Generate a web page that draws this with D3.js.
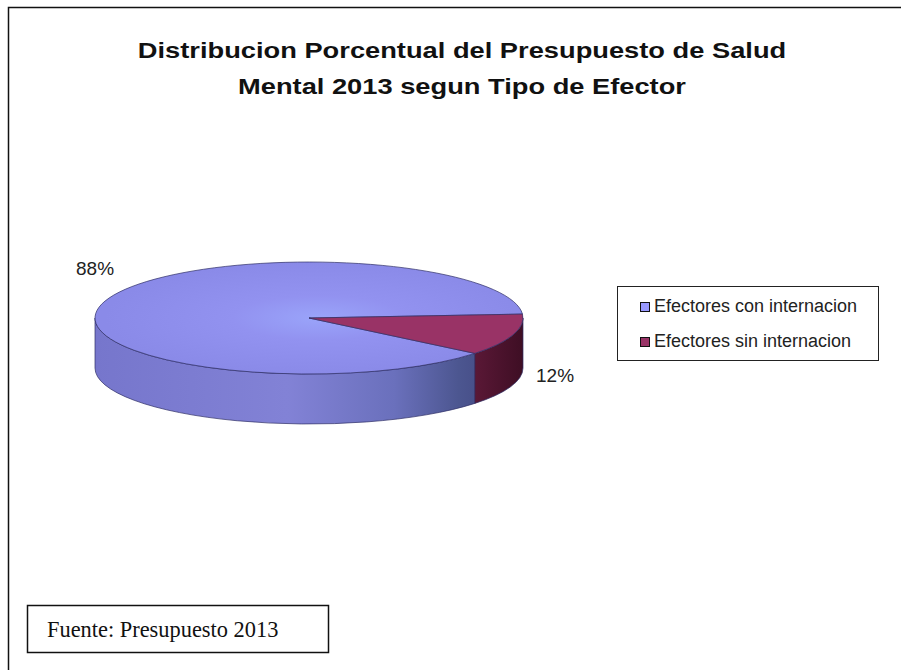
<!DOCTYPE html>
<html>
<head>
<meta charset="utf-8">
<script src="https://cdn.jsdelivr.net/npm/d3@7"></script>
<style>
  html, body { margin: 0; padding: 0; background: #fff; overflow: hidden; }
  svg { display: block; }
</style>
</head>
<body>
<div id="chart"></div>
<script>
const width = 901;
const height = 670;

// data
const categories = ["Efectores con internacion", "Efectores sin internacion"];
const values = [88, 12];
const labels = ["88%", "12%"];
const titleLines = ["Distribucion Porcentual del Presupuesto de Salud", "Mental 2013 segun Tipo de Efector"];
const source = "Fuente: Presupuesto 2013";

const topColors = ["#9090ee", "#993366"];
const sideColors = ["url(#sideBlue)", "url(#sideRed)"];
const legendColors = ["#9999ff", "#993366"];

// pie geometry
const cx = 309, cy = 318, rx = 214, ry = 56, depth = 50;
const firstAngle = 39.2 * Math.PI / 180; // screen angle where first slice starts (clockwise from 3 o'clock)

const svg = d3.select("#chart").append("svg")
  .attr("width", width).attr("height", height);

const defs = svg.append("defs");
const gSide = defs.append("linearGradient").attr("id", "sideBlue")
  .attr("gradientUnits", "userSpaceOnUse")
  .attr("x1", cx - rx).attr("x2", cx + rx).attr("y1", 0).attr("y2", 0);
gSide.append("stop").attr("offset", "0%").attr("stop-color", "#7676cc");
gSide.append("stop").attr("offset", "45%").attr("stop-color", "#8282d6");
gSide.append("stop").attr("offset", "70%").attr("stop-color", "#6a70bc");
gSide.append("stop").attr("offset", "85%").attr("stop-color", "#4c5690");
gSide.append("stop").attr("offset", "100%").attr("stop-color", "#3c3f78");

const gRed = defs.append("linearGradient").attr("id", "sideRed")
  .attr("x1", 0).attr("x2", 1).attr("y1", 0).attr("y2", 0);
gRed.append("stop").attr("offset", "0%").attr("stop-color", "#5a1836");
gRed.append("stop").attr("offset", "100%").attr("stop-color", "#3e0e24");

const gTop = defs.append("radialGradient").attr("id", "topBlue")
  .attr("gradientUnits", "userSpaceOnUse")
  .attr("cx", cx + 10).attr("cy", cy).attr("r", rx)
  .attr("gradientTransform", `translate(0,${cy}) scale(1,${ry / rx}) translate(0,${-cy})`);
gTop.append("stop").attr("offset", "0%").attr("stop-color", "#9aa4fa");
gTop.append("stop").attr("offset", "40%").attr("stop-color", "#9292f0");
gTop.append("stop").attr("offset", "100%").attr("stop-color", "#8a8ae8");

// chart frame (left and top edges only, the picture is cut on the right)
svg.append("path")
  .attr("d", `M8.5,${height} L8.5,7.5 L${width},7.5`)
  .attr("fill", "none").attr("stroke", "#111").attr("stroke-width", 1.5);

// title (glyphs look horizontally stretched in the original)
svg.append("text")
  .attr("transform", "translate(462,0) scale(1.24,1)")
  .attr("text-anchor", "middle")
  .attr("font-family", "Liberation Sans, Arial, sans-serif")
  .attr("font-weight", "bold").attr("font-size", 22).attr("fill", "#111")
  .selectAll("tspan").data(titleLines).join("tspan")
  .attr("x", 0).attr("y", (d, i) => 58 + i * 36)
  .text(d => d);

const pie = d3.pie().sort(null)
  .startAngle(firstAngle + Math.PI / 2)
  .endAngle(firstAngle + Math.PI / 2 + 2 * Math.PI);
const arcs = pie(values);

const toScreen = a => a - Math.PI / 2;
const pt = (a, dy = 0) => [cx + rx * Math.cos(a), cy + ry * Math.sin(a) + dy];

function topPath(d) {
  const a0 = toScreen(d.startAngle), a1 = toScreen(d.endAngle);
  const p0 = pt(a0), p1 = pt(a1);
  const large = (a1 - a0) > Math.PI ? 1 : 0;
  return `M${cx},${cy}L${p0}A${rx},${ry} 0 ${large} 1 ${p1}Z`;
}

// visible side: part of the slice where angle (mod 2π) lies in [0, π]
function sidePath(d) {
  const a0 = toScreen(d.startAngle), a1 = toScreen(d.endAngle);
  const parts = [];
  for (let k = -2; k <= 2; k++) {
    const s = Math.max(a0, k * 2 * Math.PI), e = Math.min(a1, k * 2 * Math.PI + Math.PI);
    if (e > s) parts.push([s, e]);
  }
  return parts.map(([s, e]) => {
    const p0 = pt(s), p1 = pt(e), q1 = pt(e, depth), q0 = pt(s, depth);
    return `M${p0}A${rx},${ry} 0 0 1 ${p1}L${q1}A${rx},${ry} 0 0 0 ${q0}Z`;
  }).join("");
}

const pieG = svg.append("g");
pieG.selectAll("path.side").data(arcs).join("path")
  .attr("class", "side")
  .attr("d", sidePath)
  .attr("fill", (d, i) => sideColors[i])
  .attr("stroke", "#2e2e66").attr("stroke-width", 0.7);

pieG.selectAll("path.top").data(arcs).join("path")
  .attr("class", "top")
  .attr("d", topPath)
  .attr("fill", (d, i) => i === 0 ? "url(#topBlue)" : topColors[i])
  .attr("stroke", "#2e2e66").attr("stroke-width", 0.7);

// data labels
const labelPos = [[76, 275], [536, 382]];
svg.selectAll("text.lbl").data(labels).join("text")
  .attr("class", "lbl")
  .attr("x", (d, i) => labelPos[i][0]).attr("y", (d, i) => labelPos[i][1])
  .attr("font-family", "Liberation Sans, Arial, sans-serif")
  .attr("font-size", 19).attr("fill", "#222")
  .text(d => d);

// legend
const legend = svg.append("g");
legend.append("rect")
  .attr("x", 617.5).attr("y", 286.5).attr("width", 261).attr("height", 74)
  .attr("fill", "#fff").attr("stroke", "#222").attr("stroke-width", 1);
const items = legend.selectAll("g.item").data(categories).join("g")
  .attr("class", "item")
  .attr("transform", (d, i) => `translate(640,${302 + i * 35})`);
items.append("rect")
  .attr("x", 0.5).attr("y", 0.5).attr("width", 9).attr("height", 9)
  .attr("fill", (d, i) => legendColors[i]).attr("stroke", "#111").attr("stroke-width", 1);
items.append("text")
  .attr("x", 14).attr("y", 10)
  .attr("font-family", "Liberation Sans, Arial, sans-serif")
  .attr("font-size", 18).attr("fill", "#222")
  .text(d => d);

// source box
svg.append("rect")
  .attr("x", 27.5).attr("y", 605.5).attr("width", 301).attr("height", 47)
  .attr("fill", "#fff").attr("stroke", "#111").attr("stroke-width", 1.5);
svg.append("text")
  .attr("x", 47).attr("y", 637)
  .attr("font-family", "Liberation Serif, Times New Roman, serif")
  .attr("font-size", 22.4).attr("fill", "#111")
  .text(source);
</script>
</body>
</html>
